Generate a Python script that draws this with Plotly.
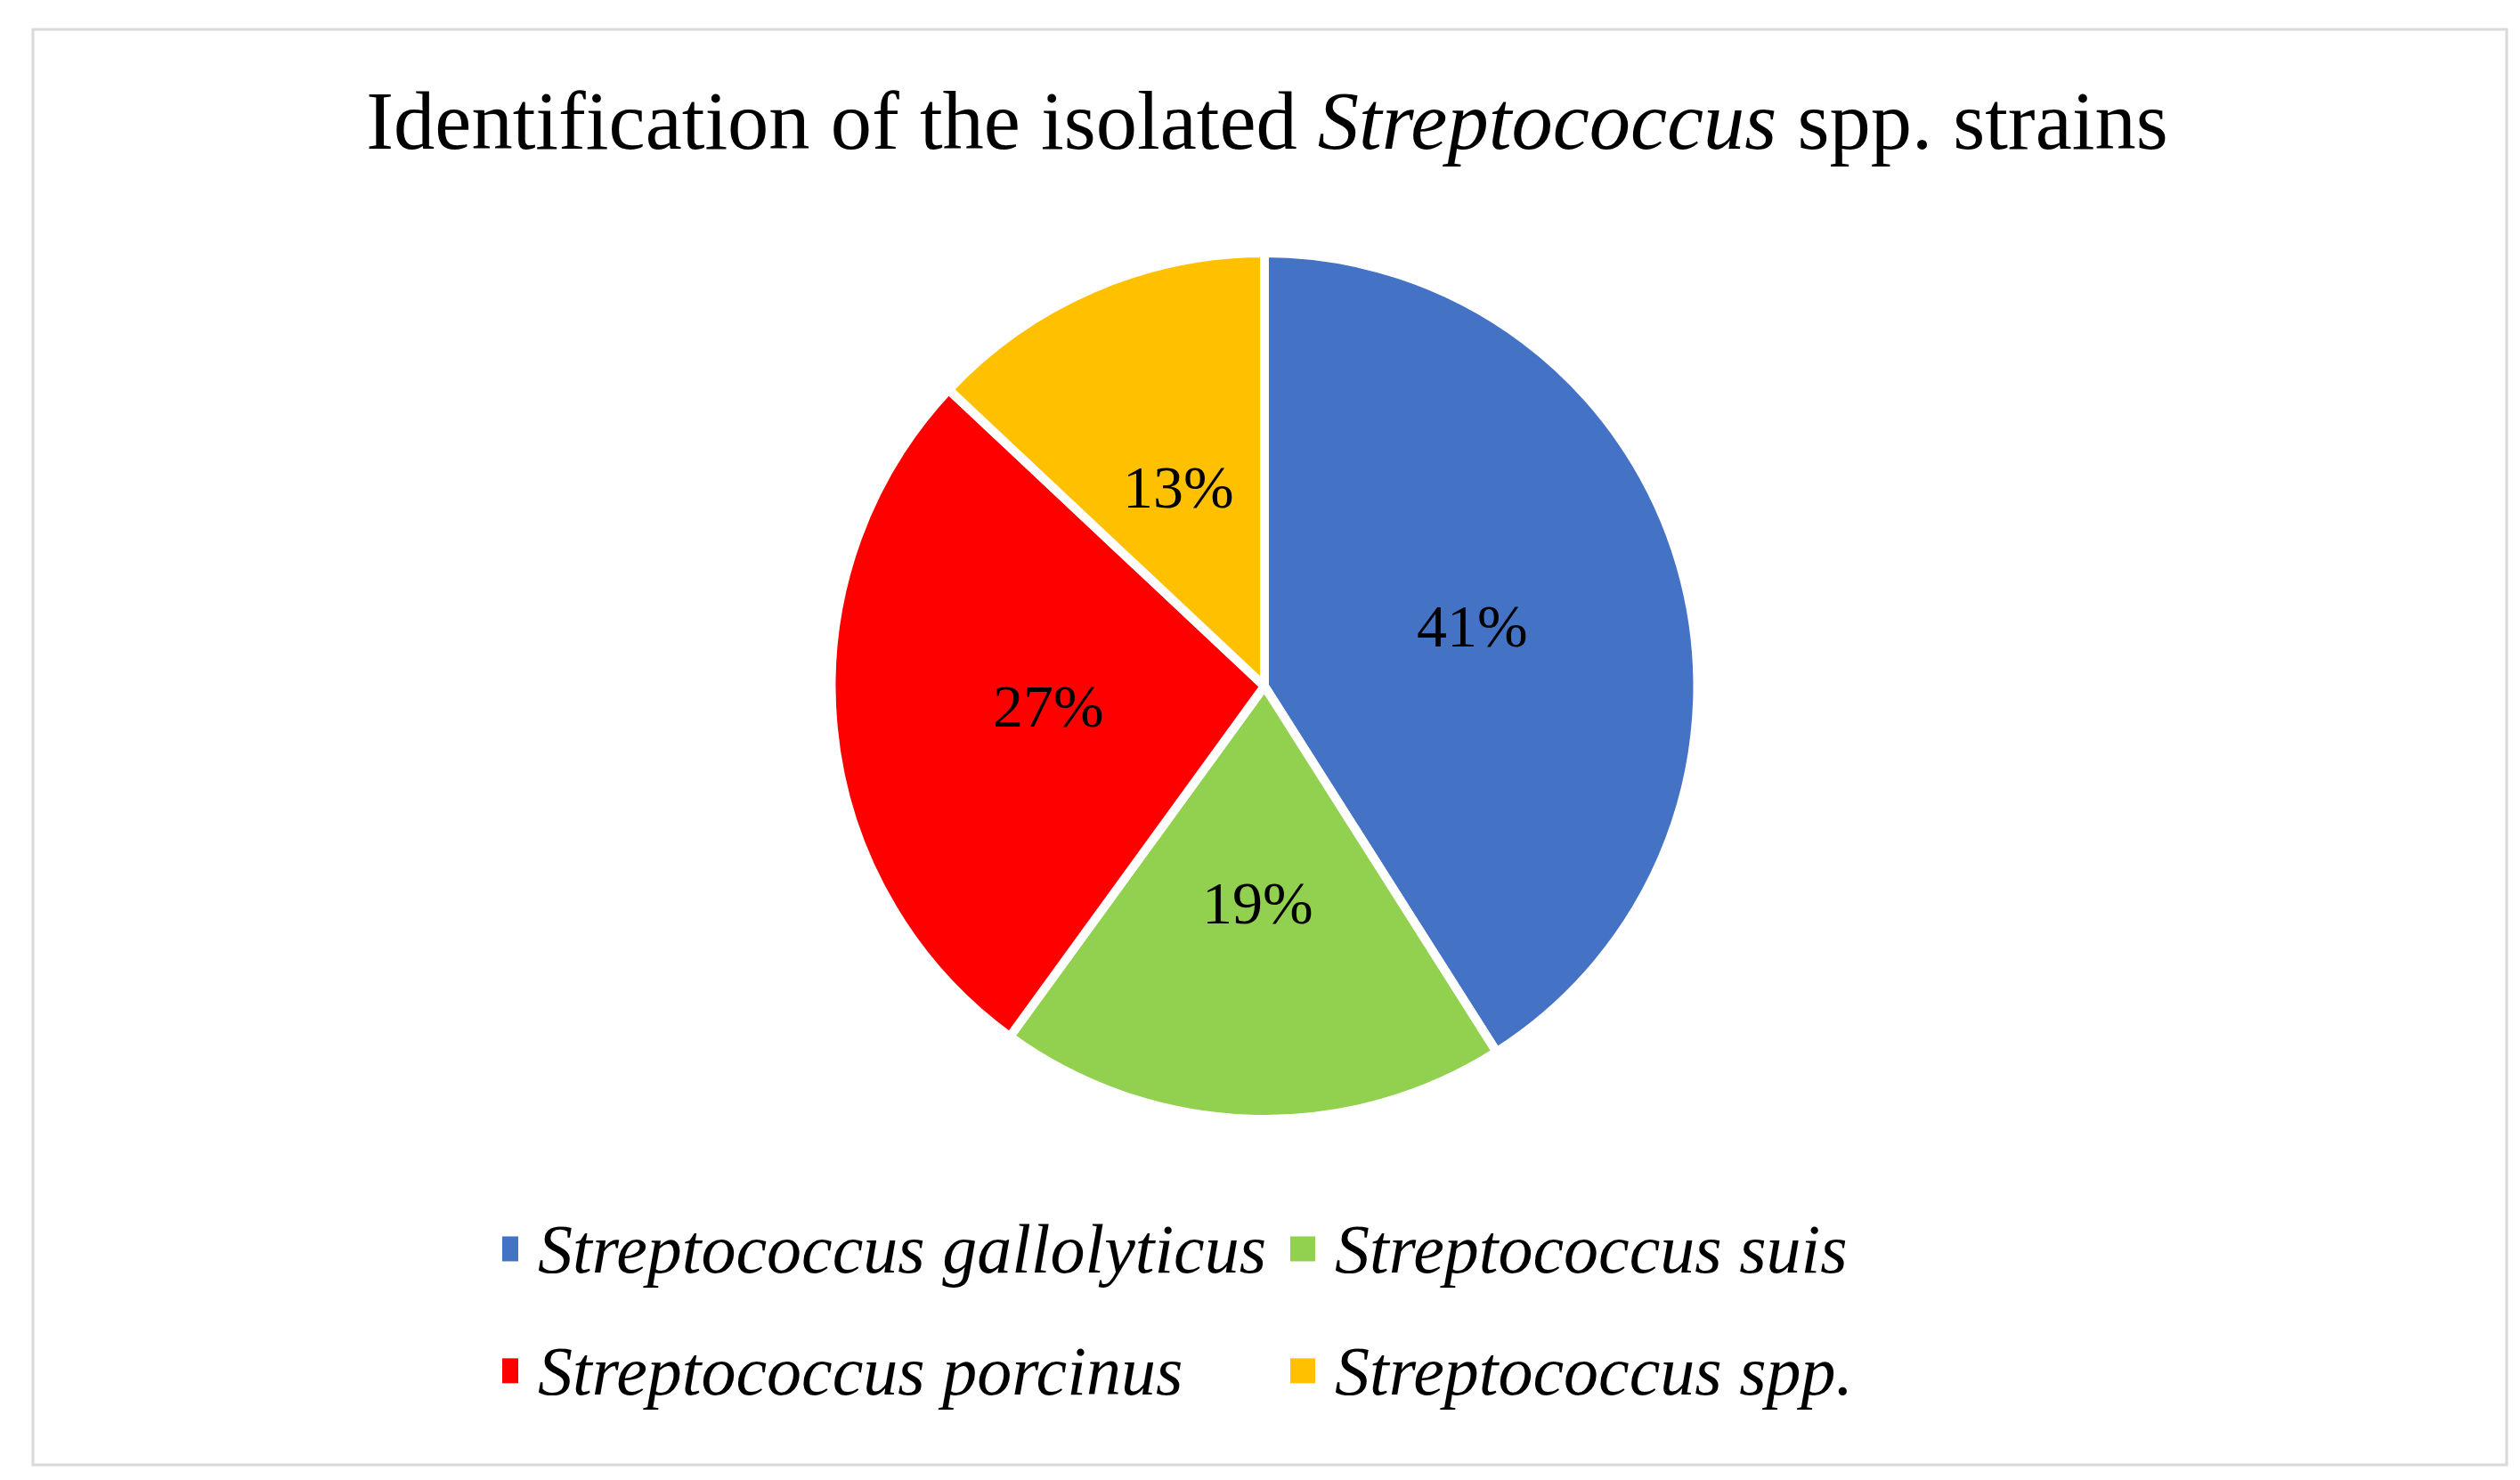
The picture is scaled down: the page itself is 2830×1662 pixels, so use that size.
import math

import plotly.graph_objects as go

# strain identification shares (%)
species = [
    "Streptococcus gallolyticus",
    "Streptococcus suis",
    "Streptococcus porcinus",
    "Streptococcus spp.",
]
shares = [41, 19, 27, 13]
colors = ["#4472C4", "#92D050", "#FF0000", "#FFC000"]

FONT = "Liberation Serif, Times New Roman, serif"
W, H = 2830, 1662
ML, MR = 400, 400
PW = W - ML - MR
PIE_X = [0, 1 - 6 / PW]
PIE_Y = [0.2485, 0.8339]

# italic legend labels; the bigger legend font only sets the row height
labels = [f'<span style="font-size:78px"><i>{s}</i></span>' for s in species]

fig = go.Figure(
    go.Pie(
        labels=labels,
        values=shares,
        sort=False,
        direction="clockwise",
        rotation=0,
        marker=dict(colors=colors, line=dict(color="white", width=10)),
        textinfo="none",
        hoverinfo="label+percent",
        domain=dict(x=PIE_X, y=PIE_Y),
    )
)

# percentage labels at half radius on each slice's mid angle (Excel style)
total = sum(shares)
r_px = (PIE_Y[1] - PIE_Y[0]) * H / 2
cx = (PIE_X[0] + PIE_X[1]) / 2
cy = (PIE_Y[0] + PIE_Y[1]) / 2
cum = 0
annotations = []
for s in shares:
    ang = (cum + s / 2) / total * 2 * math.pi
    cum += s
    annotations.append(
        dict(
            x=cx + 0.5 * r_px * math.sin(ang) / PW,
            y=cy + 0.5 * r_px * math.cos(ang) / H,
            xref="paper",
            yref="paper",
            text=f"{round(s / total * 100)}%",
            showarrow=False,
            xanchor="center",
            yanchor="middle",
            font=dict(family=FONT, size=68, color="black"),
        )
    )

fig.update_layout(
    width=W,
    height=H,
    margin=dict(l=ML, r=MR, t=0, b=0),
    paper_bgcolor="white",
    plot_bgcolor="white",
    font=dict(family=FONT, color="black"),
    title=dict(
        text="Identification of the isolated <i>Streptococcus</i> spp. strains",
        x=0.5,
        xanchor="center",
        y=1 - 127 / H,
        yanchor="middle",
        yref="container",
        font=dict(family=FONT, size=92.5, color="black"),
    ),
    showlegend=True,
    legend=dict(
        orientation="h",
        x=(556 - ML) / PW,
        xanchor="left",
        y=1 - 1307 / H,
        yanchor="top",
        entrywidth=850,
        font=dict(family=FONT, size=103, color="black"),
        bgcolor="rgba(0,0,0,0)",
    ),
    annotations=annotations,
    shapes=[
        dict(
            type="rect",
            xref="paper",
            yref="paper",
            x0=(29 - ML) / PW,
            x1=(2807 - ML) / PW,
            y0=1 - 1637 / H,
            y1=1 - 25 / H,
            line=dict(color="#D9D9D9", width=3),
            fillcolor="rgba(0,0,0,0)",
            layer="below",
        )
    ],
)

# bigger square legend keys without the white slice outline
post = """
var gd = document.getElementById('{plot_id}');
function bigKeys() {
  gd.querySelectorAll('path.legendpie').forEach(function (p) {
    p.setAttribute('d', 'M-2,28H-30V0H-2Z');
    p.style.strokeWidth = '0px';
  });
}
bigKeys();
gd.on('plotly_afterplot', bigKeys);
"""

fig.write_html("out.html", post_script=post)
